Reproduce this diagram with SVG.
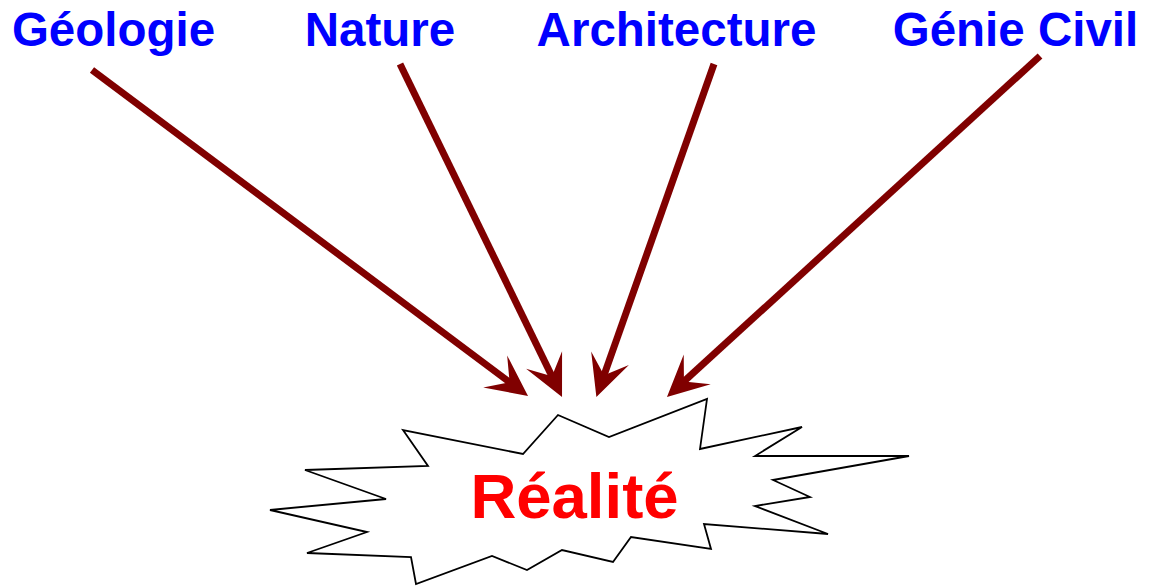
<svg xmlns="http://www.w3.org/2000/svg" width="1149" height="586" viewBox="0 0 1149 586">
<style>
.lbl{font-family:"Liberation Sans",Arial,sans-serif;font-weight:bold;font-size:47.5px;fill:#0000FF;text-anchor:middle}
.main{font-family:"Liberation Sans",Arial,sans-serif;font-weight:bold;font-size:63.5px;fill:#FF0000;text-anchor:middle}
.arr{stroke:#800000;stroke-width:7;fill:none;marker-end:url(#head)}
</style>
<defs>
<marker id="head" markerUnits="userSpaceOnUse" orient="auto" refX="-22" refY="0" markerWidth="60" markerHeight="60" overflow="visible">
<path d="M0,0 L-41,-20 L-23,0 L-41,20 Z" fill="#800000"/>
</marker>
</defs>
<rect width="1149" height="586" fill="#fff"/>
<g id="realite">
<polygon points="403,430 428,466 305,470 386,499 270,510 367,532 307,553 411,557 416,584 492,556 527,570 562,550 613,562 631,537 711,549 704,524 828,534 755,506 810,497 773,480 909,456 755,456 802,427 700,449 707,399 609,437 558,415 523,454" fill="#fff" stroke="#000" stroke-width="1.8" stroke-linejoin="miter"/>
<text class="main" x="574.5" y="518">Réalité</text>
</g>
<g id="geologie"><text class="lbl" x="113.5" y="46">Géologie</text></g>
<g id="nature"><text class="lbl" x="380" y="46">Nature</text></g>
<g id="architecture"><text class="lbl" x="676.5" y="46">Architecture</text></g>
<g id="genie-civil"><text class="lbl" x="1015.5" y="46">Génie Civil</text></g>
<g id="connectors">
<line class="arr" x1="92" y1="70" x2="510.4" y2="382.8"/>
<line class="arr" x1="400" y1="64" x2="552.4" y2="377.2"/>
<line class="arr" x1="714" y1="64" x2="603.7" y2="376.2"/>
<line class="arr" x1="1040" y1="56" x2="683.2" y2="382.2"/>
</g>
</svg>
